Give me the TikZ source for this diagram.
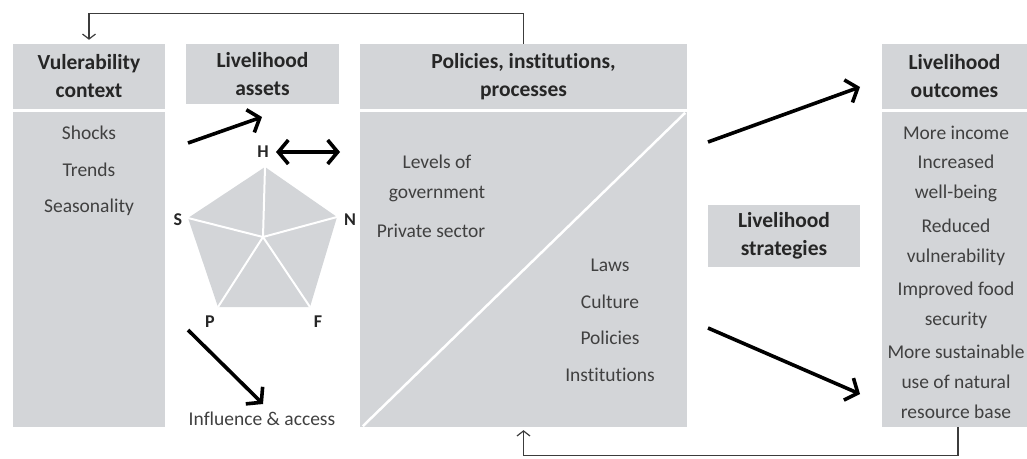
\documentclass[tikz,border=0pt]{standalone}
\usepackage{fontspec}
\setmainfont{Carlito}[Ligatures=NoCommon]
\usetikzlibrary{arrows.meta}
\definecolor{boxgrey}{HTML}{D3D5D8}
\definecolor{headtext}{HTML}{262626}
\definecolor{bodytext}{HTML}{404040}
\definecolor{linegrey}{HTML}{3C3C3C}
\begin{document}
\begin{tikzpicture}[x=1pt, y=-1pt,
    panel/.style={fill=boxgrey, inner sep=0pt},
    headline/.style={text=headtext, font=\bfseries\fontsize{21.5}{28}\selectfont, align=center},
    item/.style={text=bodytext, font=\fontsize{19.5}{30}\selectfont, align=center},
    corner/.style={text=headtext, font=\bfseries\fontsize{18}{20}\selectfont},
    bigarrow/.style={line width=3.6pt, -{Straight Barb[length=10pt, width=24pt]}},
    feedback/.style={line width=1.2pt, draw=linegrey, -{Straight Barb[length=5pt, width=13pt]}}]
    \useasboundingbox (0,0) rectangle (1027,458);

    % Contexto de vulnerabilidad
    \node[panel, minimum width=152pt, minimum height=65pt] (vulhead) at (89,76.5) {};
    \node[headline] (vultitle) at (vulhead.center) {Vulerability\\context};
    \node[panel, minimum width=152pt, minimum height=315pt] (vulbody) at (89,269.5) {};
    \node[item] (shocks) at (89,133) {Shocks};
    \node[item] (trends) at (89,170) {Trends};
    \node[item] (season) at (89,207) {Seasonality};

    % Activos
    \node[panel, minimum width=153pt, minimum height=60pt] (assethead) at (262.5,74) {};
    \node[headline] (assettitle) at (assethead.center) {Livelihood\\assets};
    \fill[boxgrey] (265,167) coordinate (pH) -- (337,217) coordinate (pN)
        -- (310,307) coordinate (pF) -- (218,307) coordinate (pP)
        -- (188,218) coordinate (pS) -- cycle;
    \coordinate (pC) at (263,237);
    \foreach \v in {pH,pN,pF,pP,pS}
        \draw[white, line width=2pt] (pC) -- (\v);
    \node[corner] (labH) at (263,152) {H};
    \node[corner] (labN) at (350,220) {N};
    \node[corner] (labF) at (318,322) {F};
    \node[corner] (labP) at (210,322) {P};
    \node[corner] (labS) at (178,220) {S};
    \node[item] (influence) at (262,419) {Influence \& access};

    % Politicas e instituciones
    \node[panel, minimum width=327pt, minimum height=65pt] (polhead) at (523.5,76.5) {};
    \node[headline] (poltitle) at (polhead.center) {Policies, institutions,\\processes};
    \node[panel, minimum width=327pt, minimum height=315pt] (polbody) at (523.5,269.5) {};
    \draw[white, line width=2.5pt] ([shift={(3,-1)}]polbody.south west) -- ([shift={(-2,1)}]polbody.north east);
    \node[item] (levels) at (437,178) {Levels of\\government};
    \node[item] (private) at (431,231) {Private sector};
    \node[item] (laws) at (610,265) {Laws};
    \node[item] (culture) at (610,302) {Culture};
    \node[item] (policies) at (610,338) {Policies};
    \node[item] (institutions) at (610,375) {Institutions};

    % Estrategias
    \node[panel, minimum width=152pt, minimum height=62pt] (strat) at (784,236) {};
    \node[headline] (strattitle) at (strat.center) {Livelihood\\strategies};

    % Resultados
    \node[panel, minimum width=145pt, minimum height=65pt] (outhead) at (954.5,76.5) {};
    \node[headline] (outtitle) at (outhead.center) {Livelihood\\outcomes};
    \node[panel, minimum width=145pt, minimum height=315pt] (outbody) at (954.5,269.5) {};
    \node[item] (income) at (956,133) {More income};
    \node[item] (wellbeing) at (956,178) {Increased\\well-being};
    \node[item] (reduced) at (956,242) {Reduced\\vulnerability};
    \node[item] (food) at (956,305) {Improved food\\security};
    \node[item] (sustain) at (956,382) {More sustainable\\use of natural\\resource base};

    % Flechas
    \coordinate (a1s) at (188,143); \coordinate (a1e) at (262,117);
    \coordinate (a2s) at (276,152); \coordinate (a2e) at (340,152);
    \coordinate (a3s) at (188,330); \coordinate (a3e) at (263,404);
    \coordinate (a4s) at (708,142); \coordinate (a4e) at (860,87);
    \coordinate (a5s) at (708,328); \coordinate (a5e) at (860,394);
    \draw[bigarrow] (a1s) -- (a1e);
    \draw[line width=3.6pt, {Straight Barb[length=10pt, width=24pt]}-{Straight Barb[length=10pt, width=24pt]}] (a2s) -- (a2e);
    \draw[bigarrow] (a3s) -- (a3e);
    \draw[bigarrow] (a4s) -- (a4e);
    \draw[bigarrow] (a5s) -- (a5e);

    % Retroalimentacion
    \draw[feedback, shorten >=4pt] (polhead.north) -- ++(0,-30) -| (vulhead.north);
    \draw[feedback, shorten >=3pt] ([xshift=3.5pt]outbody.south) -- ++(0,28) -| (polbody.south);
\end{tikzpicture}
\end{document}
